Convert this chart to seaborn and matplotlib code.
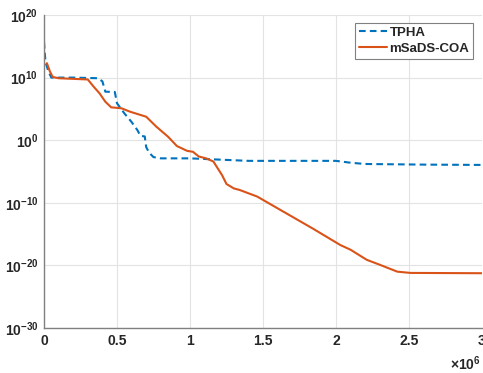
import numpy as np
import pandas as pd
import matplotlib
matplotlib.use('Agg')
import matplotlib.pyplot as plt
import seaborn as sns

# iterations (x 1e6) and log10 of best value
tpha_x = [0.0, 0.01, 0.03, 0.05, 0.2, 0.37, 0.40, 0.42, 0.485, 0.50, 0.55, 0.60, 0.64,
          0.66, 0.69, 0.70, 0.72, 0.75, 0.80, 1.0, 1.2, 1.4, 1.7, 2.0, 2.1, 2.2, 2.6, 3.0]
tpha_log = [15.7, 12.5, 11.0, 10.0, 10.0, 9.9, 9.4, 7.75, 7.7, 5.9, 4.3, 2.9, 1.6,
            0.7, 0.6, -1.1, -2.0, -2.7, -2.9, -2.9, -3.1, -3.3, -3.3, -3.3, -3.6, -3.8, -3.9, -3.95]

coa_x = [0.02, 0.04, 0.06, 0.1, 0.2, 0.3, 0.34, 0.38, 0.42, 0.46, 0.53, 0.59, 0.70, 0.77,
         0.85, 0.91, 0.98, 1.02, 1.06, 1.11, 1.16, 1.19, 1.22, 1.25, 1.30, 1.34, 1.46, 1.62,
         1.84, 2.03, 2.10, 2.21, 2.30, 2.42, 2.51, 3.0]
coa_log = [12.3, 11.0, 10.1, 9.9, 9.8, 9.7, 8.55, 7.5, 6.15, 5.25, 5.1, 4.55, 3.75, 2.15,
           0.55, -0.93, -1.7, -1.85, -2.6, -2.9, -3.4, -4.5, -5.6, -7.0, -7.7, -7.95, -9.0, -11.15,
           -14.1, -16.75, -17.5, -19.1, -19.9, -21.0, -21.2, -21.25]

names = ['TPHA', 'mSaDS-COA']
colors = ['#0072BD', '#D95319']

df = pd.concat([
    pd.DataFrame({'x': tpha_x, 'y': np.power(10.0, tpha_log), 'alg': names[0]}),
    pd.DataFrame({'x': coa_x, 'y': np.power(10.0, coa_log), 'alg': names[1]}),
])

sns.set_style('white')
plt.rcParams['font.family'] = ['Liberation Sans', 'DejaVu Sans']
plt.rcParams['font.weight'] = 'bold'
plt.rcParams['mathtext.fontset'] = 'custom'
plt.rcParams['mathtext.bf'] = 'Liberation Sans:bold'
plt.rcParams['mathtext.rm'] = 'Liberation Sans:bold'

fig = plt.figure(figsize=(4.83, 3.73), dpi=100)
ax = fig.add_axes([44 / 483, 1 - 328 / 373, 438 / 483, 313 / 373])

sns.lineplot(data=df, x='x', y='y', hue='alg', style='alg', palette=colors,
             dashes={names[0]: (3.2, 2.0), names[1]: ''}, linewidth=1.5,
             sort=False, ax=ax)

ax.set_yscale('log')
ax.set_xlim(0, 3)
ax.set_ylim(1e-30, 1e20)
ax.set_xticks([0, 0.5, 1, 1.5, 2, 2.5, 3])
ax.set_xticklabels(['0', '0.5', '1', '1.5', '2', '2.5', '3'])
yt = [1e-30, 1e-20, 1e-10, 1e0, 1e10, 1e20]
ax.set_yticks(yt)
ax.set_yticklabels([r'$\mathbf{10^{%d}}$' % int(np.log10(v)) for v in yt])
ax.minorticks_off()
ax.tick_params(axis='both', direction='in', length=3, color='#808080',
               labelsize=10, pad=4)
ax.set_xlabel('')
ax.set_ylabel('')
ax.grid(True, color='#e3e3e3', linewidth=0.8)
for s in ['top', 'right']:
    ax.spines[s].set_visible(False)
for s in ['left', 'bottom']:
    ax.spines[s].set_color('#808080')
    ax.spines[s].set_linewidth(1.0)

# exponent of the x axis, MATLAB style
ax.text(0.998, -0.083, r'$\times\mathbf{10^{6}}$', transform=ax.transAxes,
        ha='right', va='top', fontsize=10)

leg = ax.legend(loc='upper right', bbox_to_anchor=(0.98, 0.975), fancybox=False,
                edgecolor='#808080', framealpha=1, fontsize=9.5, handlelength=2.1,
                handletextpad=0.2, borderpad=0.3, labelspacing=0.25, borderaxespad=0)
leg.get_frame().set_linewidth(0.8)
for t in leg.get_texts():
    t.set_fontweight('bold')

fig.savefig('out.png', dpi=100)
